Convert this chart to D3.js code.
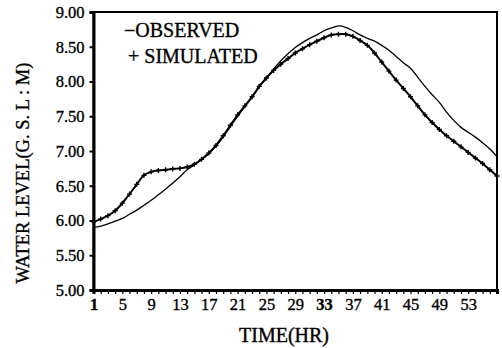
<!DOCTYPE html>
<html><head><meta charset="utf-8">
<script src="https://cdn.jsdelivr.net/npm/d3@7"></script>
<style>body{margin:0;background:#fff}svg{display:block}</style>
</head><body><svg id="c" width="502" height="348"></svg>
<script>
const hours = d3.range(1, 58);
const observed = [5.90,5.92,5.95,5.99,6.03,6.09,6.15,6.22,6.29,6.37,6.45,6.54,6.63,6.73,6.80,6.88,6.96,7.07,7.20,7.35,7.50,7.64,7.77,7.92,8.05,8.18,8.30,8.40,8.49,8.56,8.62,8.67,8.73,8.77,8.80,8.78,8.73,8.67,8.62,8.58,8.52,8.45,8.36,8.27,8.19,8.06,7.93,7.81,7.70,7.56,7.44,7.34,7.27,7.20,7.12,7.03,6.92];
const simulated = [5.98,6.02,6.07,6.14,6.25,6.38,6.52,6.65,6.70,6.72,6.73,6.74,6.75,6.77,6.81,6.88,6.97,7.08,7.22,7.37,7.52,7.65,7.78,7.93,8.05,8.16,8.25,8.33,8.41,8.47,8.53,8.58,8.63,8.67,8.68,8.68,8.65,8.59,8.52,8.41,8.28,8.15,8.02,7.90,7.78,7.65,7.52,7.41,7.31,7.22,7.14,7.06,6.98,6.90,6.82,6.73,6.64];
const xTickLabels = [1,5,9,13,17,21,25,29,33,37,41,45,49,53];
const yTicks = [5.0,5.5,6.0,6.5,7.0,7.5,8.0,8.5,9.0];

const svg = d3.select("#c");
const L = 93.5, R = 497, T = 12, B = 290;
const x = d3.scaleLinear().domain([1, 57]).range([L, R]);
const y = d3.scaleLinear().domain([5, 9]).range([B, T]);
const font = "'Liberation Serif','DejaVu Serif',serif";
const heavy = s => s.attr("stroke", "#000").attr("stroke-width", 0.35);

// frame
svg.append("rect").attr("x", L).attr("y", T).attr("width", R - L).attr("height", B - T)
  .attr("fill", "none").attr("stroke", "#000").attr("stroke-width", 2);

// y axis
const ya = svg.append("g").attr("transform", `translate(${L},0)`)
  .call(d3.axisLeft(y).tickValues(yTicks).tickSize(4).tickPadding(5).tickFormat(d3.format(".2f")));
ya.select(".domain").attr("stroke-width", 3);
ya.selectAll("text").attr("font-family", font).attr("font-size", 16.5).attr("fill", "#000").call(heavy);
ya.selectAll("line").attr("stroke-width", 2);

// x axis minor ticks
const xa = svg.append("g").attr("transform", `translate(0,${B})`)
  .call(d3.axisBottom(x).tickValues(hours).tickSize(4).tickFormat(""));
xa.select(".domain").attr("stroke-width", 3);
xa.selectAll("line").attr("stroke-width", 1.2);
const xl = svg.append("g").attr("transform", `translate(0,${B})`)
  .call(d3.axisBottom(x).tickValues(xTickLabels).tickSize(0).tickPadding(8).tickFormat(d3.format("d")));
xl.select(".domain").remove();
xl.selectAll("text").attr("font-family", font).attr("font-size", 16.5).attr("fill", "#000").call(heavy)
  .attr("font-weight", d => (d === 1 || d === 33) ? "bold" : "normal");

const line = d3.line().x((d, i) => x(hours[i])).y(d => y(d)).curve(d3.curveCatmullRom);

svg.append("path").datum(observed).attr("d", line).attr("fill", "none")
  .attr("stroke", "#000").attr("stroke-width", 1.3);
svg.append("path").datum(simulated).attr("d", line).attr("fill", "none")
  .attr("stroke", "#000").attr("stroke-width", 2);
svg.append("g").selectAll("path").data(simulated).join("path")
  .attr("d", (d, i) => { const cx = x(hours[i]), cy = y(d); return `M${cx-2.5},${cy}H${cx+2.5}M${cx},${cy-2.5}V${cy+2.5}`; })
  .attr("stroke", "#000").attr("stroke-width", 1.4);

// legend
svg.append("text").attr("x", 124).attr("y", 37).attr("font-family", font).attr("font-size", 20)
  .attr("fill", "#000").call(heavy).text("\u2212OBSERVED");
svg.append("text").attr("x", 128).attr("y", 63).attr("font-family", font).attr("font-size", 20)
  .attr("fill", "#000").call(heavy).text("+ SIMULATED");

// axis titles
svg.append("text").attr("transform", "translate(29,173) rotate(-90)").attr("text-anchor", "middle")
  .attr("font-family", font).attr("font-size", 18.5).attr("fill", "#000").call(heavy).text("WATER LEVEL(G. S. L : M)");
svg.append("text").attr("x", 284).attr("y", 342).attr("text-anchor", "middle")
  .attr("font-family", font).attr("font-size", 20).attr("fill", "#000").call(heavy).text("TIME(HR)");
</script></body></html>
